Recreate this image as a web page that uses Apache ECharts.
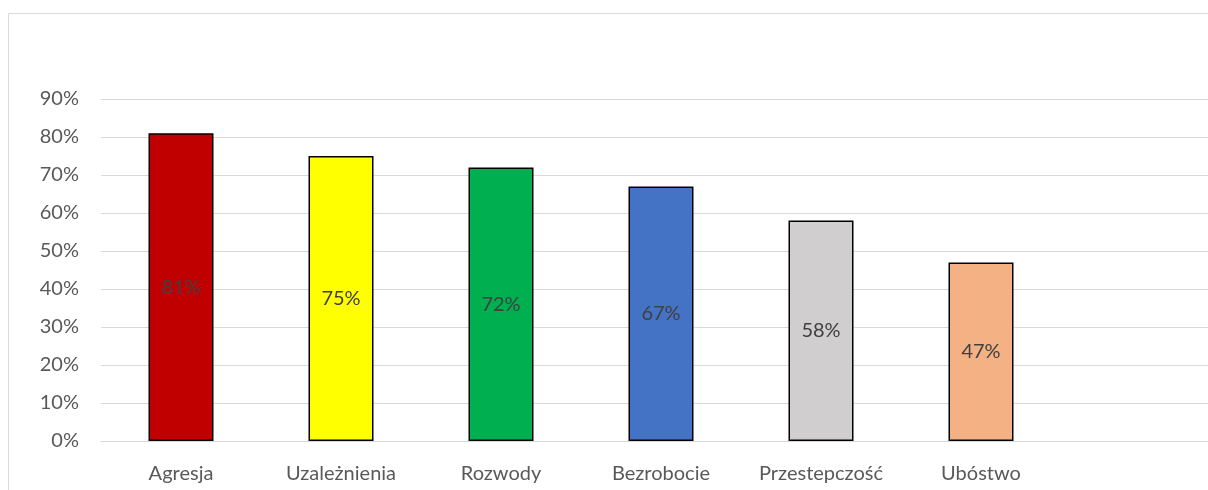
<!DOCTYPE html>
<html><head><meta charset="utf-8">
<script src="https://cdn.jsdelivr.net/npm/echarts@6/dist/echarts.min.js"></script>
<style>html,body{margin:0;padding:0;background:#fff}#c{width:1208px;height:490px}</style>
</head><body><div id="c"></div>
<script>
const categories = ['Agresja','Uzależnienia','Rozwody','Bezrobocie','Przestepczość','Ubóstwo',''];
const values = [81,75,72,67,58,47,null];
const barColors = ['#c00000','#ffff00','#00b050','#4472c4','#d0cece','#f4b183','#ffffff'];
const yTicks = [0,10,20,30,40,50,60,70,80,90];

const chart = echarts.init(document.getElementById('c'));
const font = 'Lato, "Open Sans", sans-serif';
chart.setOption({
  animation:false,
  graphic:[{type:'rect',shape:{x:8.5,y:13.5,width:1300,height:600},style:{fill:'none',stroke:'#d9d9d9',lineWidth:1},z:-1}],
  grid:{left:101,width:1120,top:99,height:342,outerBoundsMode:'none',containLabel:false},
  xAxis:{type:'category',data:categories,
    axisLine:{show:true,lineStyle:{color:'#d9d9d9',width:1}},
    axisTick:{show:false},
    axisLabel:{interval:0,hideOverlap:false,color:'#595959',fontSize:20,fontFamily:font,margin:23}},
  yAxis:{type:'value',min:0,max:90,interval:10,
    axisLabel:{formatter:'{value}%',color:'#595959',fontSize:20,fontFamily:font,margin:22},
    splitLine:{lineStyle:{color:'#d9d9d9',width:1}},
    axisLine:{show:false},axisTick:{show:false}},
  series:[{type:'bar',barWidth:65,
    data:values.map((v,i)=>({value:v,itemStyle:{color:barColors[i]}})),
    itemStyle:{borderColor:'#000',borderWidth:1.5},
    label:{show:true,position:'inside',formatter:'{c}%',color:'#404040',fontSize:20,fontFamily:font}}]
});
</script></body></html>
